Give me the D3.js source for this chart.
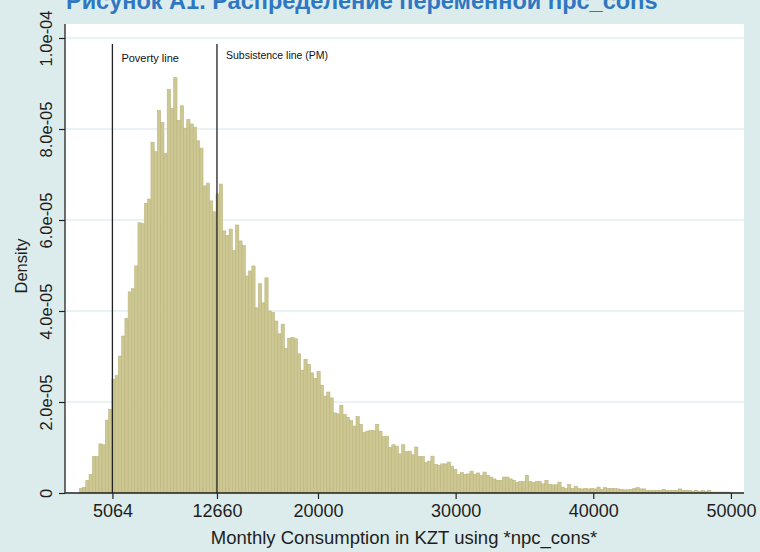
<!DOCTYPE html>
<html><head><meta charset="utf-8">
<script src="https://cdn.jsdelivr.net/npm/d3@7"></script>
<style>body{margin:0;background:#dcecec;}svg{display:block;}</style>
</head><body>
<script>
// ---- data ----
const title = "Рисунок А1. Распределение переменной npc_cons";
const xTitle = "Monthly Consumption in KZT using *npc_cons*";
const yTitle = "Density";
const binStart = 2660;      // KZT, left edge of first bin
const binWidth = 236.5;     // KZT per bin
// density of each bin, in units of 1e-6
const densityE6 = [
1.0,1.2,2.8,4.1,8.0,8.0,10.8,10.6,16.0,18.4,
25.0,25.8,30.1,34.5,38.4,44.2,44.9,49.9,59.4,59.2,
63.7,64.6,77.1,75.0,84.1,81.4,74.6,88.7,84.5,91.3,
81.9,85.1,80.2,82.1,81.1,80.4,77.4,75.8,67.5,68.1,
64.2,61.8,65.7,67.9,57.6,56.6,58.0,53.3,58.9,55.4,
54.4,47.7,48.8,49.9,40.7,46.0,41.8,47.3,40.0,39.7,
37.8,35.0,37.1,31.8,34.0,34.2,33.9,30.6,27.0,29.4,
28.3,26.4,25.2,26.7,23.7,21.3,22.2,20.9,17.6,17.4,
19.3,17.3,16.6,15.9,14.7,16.8,15.1,13.3,13.6,13.7,
13.7,15.1,13.6,12.4,12.5,10.0,10.6,10.3,8.6,10.6,
9.1,9.2,8.4,10.1,8.0,8.0,6.7,7.0,8.1,6.3,
6.1,6.4,6.4,6.8,5.9,5.2,4.1,4.5,4.1,4.2,
4.8,4.1,4.4,3.9,4.6,3.9,3.5,3.1,2.8,2.8,
3.5,3.5,3.1,2.8,2.3,2.5,2.5,3.9,2.5,2.3,
2.5,2.5,2.0,2.8,1.9,1.8,1.8,2.4,1.3,1.0,
1.9,1.0,1.5,1.0,0.9,1.0,0.9,1.0,0.9,1.3,
0.8,1.2,1.0,1.0,1.0,0.9,0.8,0.7,0.7,0.8,
1.0,1.2,0.9,0.9,0.6,0.6,0.6,0.6,0.6,0.8,
0.6,0.6,0.6,0.6,0.9,0.6,0.6,0.6,0.4,0.6,
0.3,0.6,0.3,0.6,0.2,0.2,0.2,0.2,0.2,0.2
];
const xTicks = [5064, 12660, 20000, 30000, 40000, 50000];
const yTicks = [0, 2e-5, 4e-5, 6e-5, 8e-5, 1e-4];
const yTickLabels = ["0", "2.0e-05", "4.0e-05", "6.0e-05", "8.0e-05", "1.0e-04"];
const refLines = [
  {value: 5064, label: "Poverty line"},
  {value: 12660, label: "Subsistence line (PM)"}
];
const refLineTop = 9.87e-5;

// ---- layout ----
const W = 760, H = 552;
const plot = {left: 65, right: 744, top: 24, bottom: 493};
const x = d3.scaleLinear().domain([1620, 50950]).range([plot.left, plot.right]);
const y = d3.scaleLinear().domain([0, 1e-4]).range([plot.bottom, 38]);
const FONT = "'Liberation Sans', Arial, sans-serif";

const svg = d3.select("body").append("svg").attr("width", W).attr("height", H)
  .style("font-family", FONT);
svg.append("rect").attr("width", W).attr("height", H).attr("fill", "#dcecec");
svg.append("rect").attr("x", plot.left).attr("y", plot.top)
  .attr("width", plot.right - plot.left).attr("height", plot.bottom - plot.top).attr("fill", "#ffffff");

// gridlines
svg.append("g").selectAll("line").data(yTicks.slice(1)).join("line")
  .attr("x1", plot.left).attr("x2", plot.right)
  .attr("y1", d => y(d)).attr("y2", d => y(d))
  .attr("stroke", "#d4e8ee").attr("stroke-width", 1.2);

// bars
const bins = densityE6.map((v, i) => ({x0: binStart + i * binWidth, x1: binStart + (i + 1) * binWidth, d: v * 1e-6}));
svg.append("g").selectAll("rect").data(bins).join("rect")
  .attr("x", b => x(b.x0)).attr("width", b => x(b.x1) - x(b.x0))
  .attr("y", b => y(b.d)).attr("height", b => y(0) - y(b.d))
  .attr("fill", "#cdc893").attr("stroke", "#bbb57b").attr("stroke-width", 0.6);

// reference lines
const rl = svg.append("g");
rl.selectAll("line").data(refLines).join("line")
  .attr("x1", d => x(d.value)).attr("x2", d => x(d.value))
  .attr("y1", y(0)).attr("y2", y(refLineTop))
  .attr("stroke", "#222").attr("stroke-width", 1.3);
rl.selectAll("text").data(refLines).join("text")
  .attr("x", d => x(d.value) + 9).attr("y", (d, i) => i === 0 ? 62 : 59)
  .attr("font-size", (d, i) => i === 0 ? 11 : 10.5).attr("fill", "#111").text(d => d.label);

// axes
const xAxis = svg.append("g").attr("transform", `translate(0,${plot.bottom})`)
  .call(d3.axisBottom(x).tickValues(xTicks).tickFormat(d3.format("d")).tickSize(6).tickPadding(5));
xAxis.select(".domain").remove();
xAxis.append("line").attr("x1", plot.left).attr("x2", plot.right).attr("stroke", "#222").attr("stroke-width", 1.3);
xAxis.selectAll(".tick line").attr("stroke", "#222").attr("stroke-width", 1.2);
xAxis.selectAll(".tick text").attr("font-size", 18).attr("fill", "#1e1e1e").attr("font-family", FONT);

const yAxis = svg.append("g").attr("transform", `translate(${plot.left},0)`)
  .call(d3.axisLeft(y).tickValues(yTicks).tickFormat((d, i) => yTickLabels[i]).tickSize(6).tickPadding(0));
yAxis.select(".domain").remove();
yAxis.append("line").attr("y1", plot.top).attr("y2", plot.bottom).attr("stroke", "#222").attr("stroke-width", 1.3);
yAxis.selectAll(".tick line").attr("stroke", "#222").attr("stroke-width", 1.2);
yAxis.selectAll(".tick text")
  .attr("x", null).attr("dy", null)
  .attr("text-anchor", "middle")
  .attr("transform", "translate(-13,0) rotate(-90)")
  .attr("font-size", 16.5).attr("fill", "#1e1e1e").attr("font-family", FONT);

// axis titles
svg.append("text").attr("x", 404).attr("y", 544).attr("text-anchor", "middle")
  .attr("font-size", 18.5).attr("fill", "#1e1e1e").text(xTitle);
svg.append("text").attr("transform", "translate(27,266) rotate(-90)").attr("text-anchor", "middle")
  .attr("font-size", 16.5).attr("fill", "#1e1e1e").text(yTitle);

// title (cut at top, as in the reference)
svg.append("text").attr("x", 66).attr("y", 9).attr("font-size", 23.5).attr("font-weight", "bold")
  .attr("fill", "#2f77c2").text(title);
</script>
</body></html>
